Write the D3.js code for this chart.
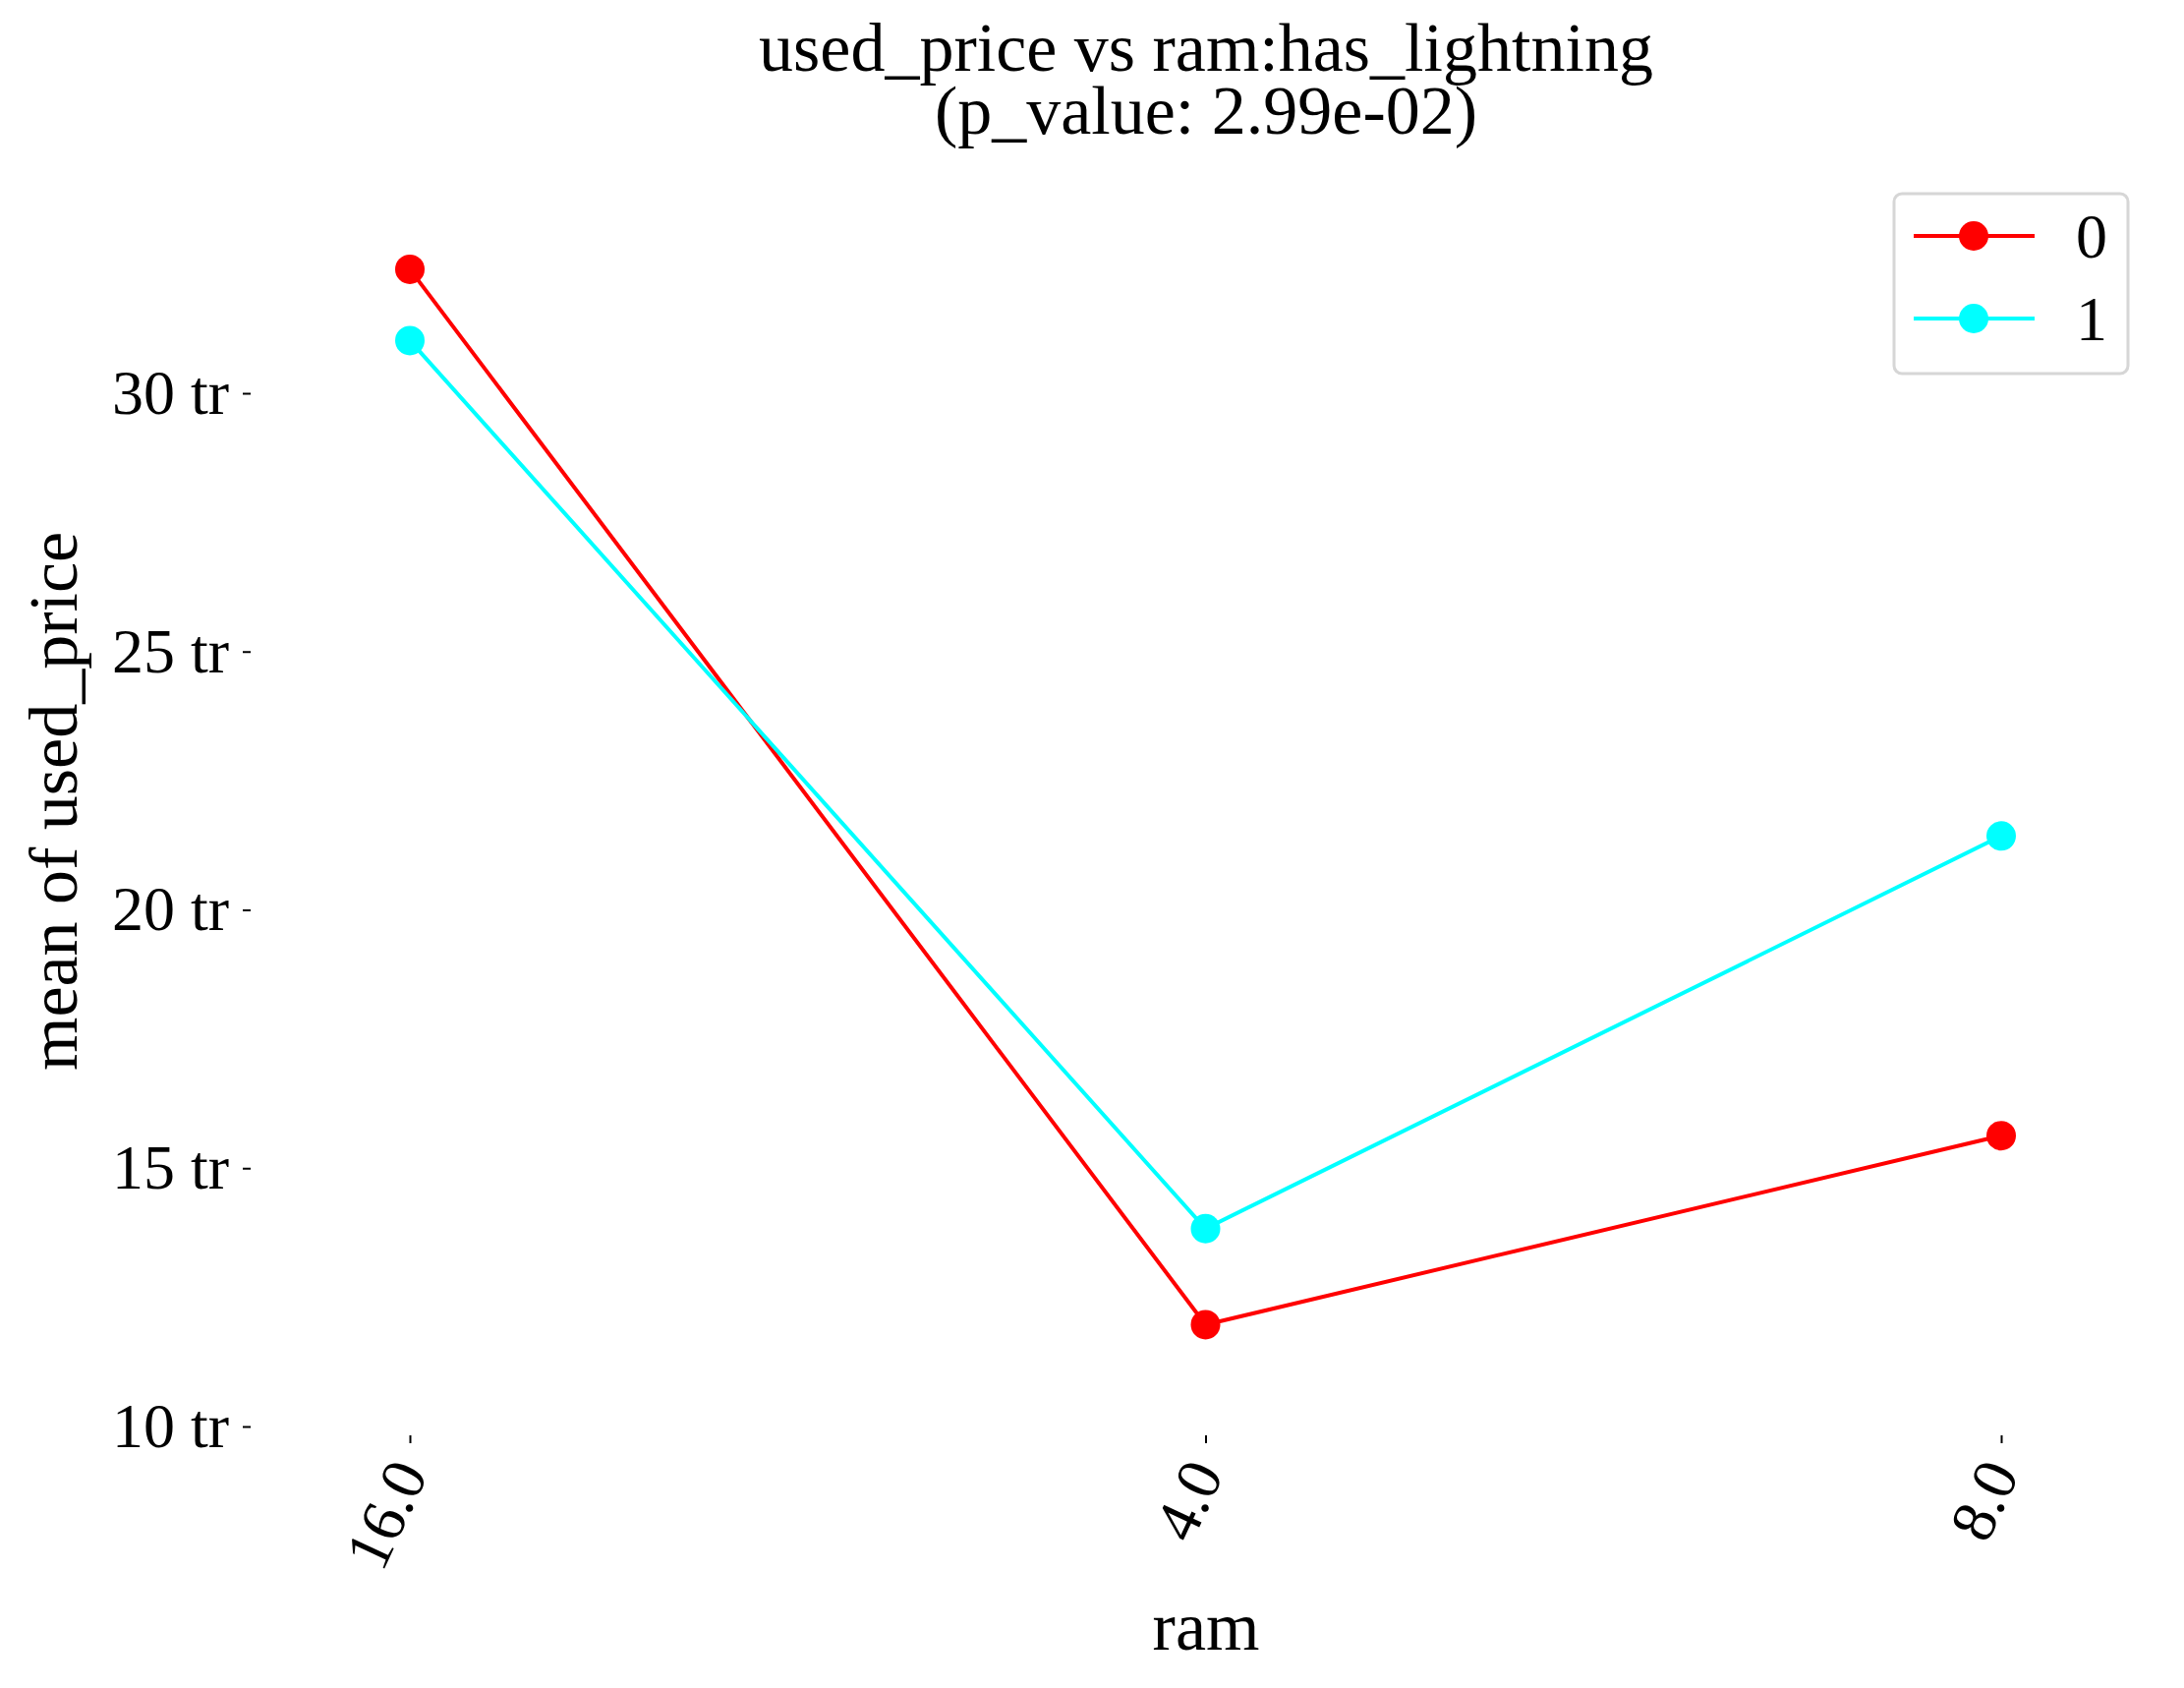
<!DOCTYPE html><html><head><meta charset="utf-8"><script src="https://d3js.org/d3.v7.min.js"></script>
<style>body{margin:0;background:#fff}text{font-family:"Liberation Serif","Times New Roman",serif}</style></head><body>
<svg id="c" width="2222" height="1717"></svg>
<script>
const categories=["16.0","4.0","8.0"];
const seriesNames=["0","1"];
const series0=[32.4,11.97,15.63];
const series1=[31.02,13.83,21.43];
const yTicks=[10,15,20,25,30];
const colors=["#ff0000","#00ffff"];
const svg=d3.select("#c");
const x=d3.scalePoint().domain(categories).range([417,2036]);
const y=d3.scaleLinear().domain([10,30]).range([1451,400]);
const ya=svg.append("g").attr("transform","translate(255,0)").call(d3.axisLeft(y).tickValues(yTicks).tickFormat(d=>d+" tr").tickSize(8).tickPadding(14));
ya.select(".domain").remove();
ya.selectAll("text").attr("font-size",64).attr("font-family","Liberation Serif");
ya.selectAll("line").attr("stroke-width",2);
const xa=svg.append("g").attr("transform","translate(0,1460)").call(d3.axisBottom(x).tickSize(8).tickPadding(12));
xa.select(".domain").remove();
xa.selectAll("line").attr("stroke-width",2);
xa.selectAll("text").attr("font-size",64).attr("font-family","Liberation Serif").attr("text-anchor","end").attr("dy","0.35em")
 .attr("transform","translate(0,26) rotate(-65)").attr("x",-4).attr("y",0);
[series0,series1].forEach((s,i)=>{
 svg.append("path").datum(s).attr("fill","none").attr("stroke",colors[i]).attr("stroke-width",4)
  .attr("d",d3.line().x((d,j)=>x(categories[j])).y(d=>y(d)));
 svg.selectAll(null).data(s).enter().append("circle").attr("cx",(d,j)=>x(categories[j])).attr("cy",d=>y(d)).attr("r",15).attr("fill",colors[i]);
});
svg.append("text").attr("x",1227).attr("y",72).attr("text-anchor","middle").attr("font-size",70).text("used_price vs ram:has_lightning");
svg.append("text").attr("x",1227).attr("y",136).attr("text-anchor","middle").attr("font-size",70).text("(p_value: 2.99e-02)");
svg.append("text").attr("x",1227).attr("y",1678).attr("text-anchor","middle").attr("font-size",70).text("ram");
svg.append("text").attr("transform","translate(78,815) rotate(-90)").attr("text-anchor","middle").attr("font-size",70).text("mean of used_price");
const lg=svg.append("g");
lg.append("rect").attr("x",1927).attr("y",197).attr("width",238).attr("height",183).attr("rx",8).attr("fill","#fff").attr("stroke","#d6d6d6").attr("stroke-width",3);
seriesNames.forEach((n,i)=>{
 const yy=240+i*84;
 lg.append("line").attr("x1",1947).attr("x2",2070).attr("y1",yy).attr("y2",yy).attr("stroke",colors[i]).attr("stroke-width",4);
 lg.append("circle").attr("cx",2008).attr("cy",yy).attr("r",15).attr("fill",colors[i]);
 lg.append("text").attr("x",2128).attr("y",yy+22).attr("text-anchor","middle").attr("font-size",64).text(n);
});
</script></body></html>
